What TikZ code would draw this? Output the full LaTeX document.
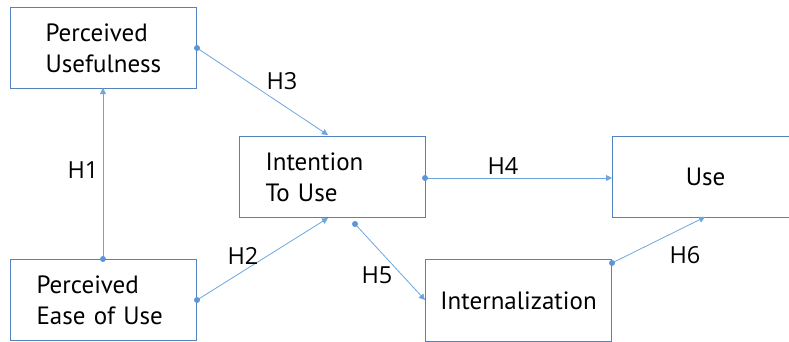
\documentclass[tikz,border=0pt]{standalone}
\usepackage{fontspec}
\setmainfont{PT Sans}
\newfontfamily\hfont{Open Sans}
\usetikzlibrary{arrows.meta}
\definecolor{boxc}{RGB}{84,130,190}
\definecolor{linec}{RGB}{110,165,220}
\definecolor{dotc}{RGB}{91,150,215}
\tikzset{
  box/.style={draw=boxc, line width=1.1pt, minimum width=186pt, minimum height=81pt, font=\fontsize{25}{31}\selectfont, anchor=north west, inner ysep=0pt},
  conn/.style={draw=linec, line width=0.8pt, -{Triangle[length=6pt,width=6pt]}},
  hl/.style={font=\hfont\fontsize{23.5}{26}\selectfont, inner sep=0pt},
  dot/.style={circle, fill=dotc, inner sep=0pt, minimum size=6pt}
}
\begin{document}
\begin{tikzpicture}[x=1pt,y=-1pt]
\useasboundingbox (0,0) rectangle (789,341);
\node[box, align=left, text width=116pt, inner xsep=35pt] (pu) at (10,7) {Perceived\\Usefulness};
\node[box, align=left, text width=134pt, inner xsep=26pt] (it) at (239,136) {Intention\\To Use};
\node[box, align=center] (use) at (612,136) {Use};
\node[box, align=left, text width=134pt, inner xsep=26pt] (peou) at (10,259) {Perceived\\Ease of Use};
\node[box, align=center, minimum height=82pt] (int) at (425,259) {Internalization};
% anchors
\coordinate (a1s) at (103,259); \coordinate (a1e) at (103,88);
\coordinate (a3s) at (197,48);  \coordinate (a3e) at (328,135);
\coordinate (a2s) at (197,300); \coordinate (a2e) at (328,218);
\coordinate (a4s) at (425,178); \coordinate (a4e) at (612,178);
\coordinate (a5s) at (355,224); \coordinate (a5e) at (425,300);
\coordinate (a6s) at (612,263); \coordinate (a6e) at (705,217);
\draw[conn] (a1s) -- (a1e);
\draw[conn] (a3s) -- (a3e);
\draw[conn] (a2s) -- (a2e);
\draw[conn] (a4s) -- (a4e);
\draw[conn] (a5s) -- (a5e);
\draw[conn] (a6s) -- (a6e);
\foreach \p in {a1s,a2s,a3s,a4s,a5s,a6s} \node[dot] at (\p) {};
\node[hl] (h1) at (83,170) {H1};
\node[hl] (h2) at (243,256) {H2};
\node[hl] (h3) at (282,81) {H3};
\node[hl] (h4) at (503,166) {H4};
\node[hl] (h5) at (377,275) {H5};
\node[hl] (h6) at (685,255) {H6};
\end{tikzpicture}
\end{document}
